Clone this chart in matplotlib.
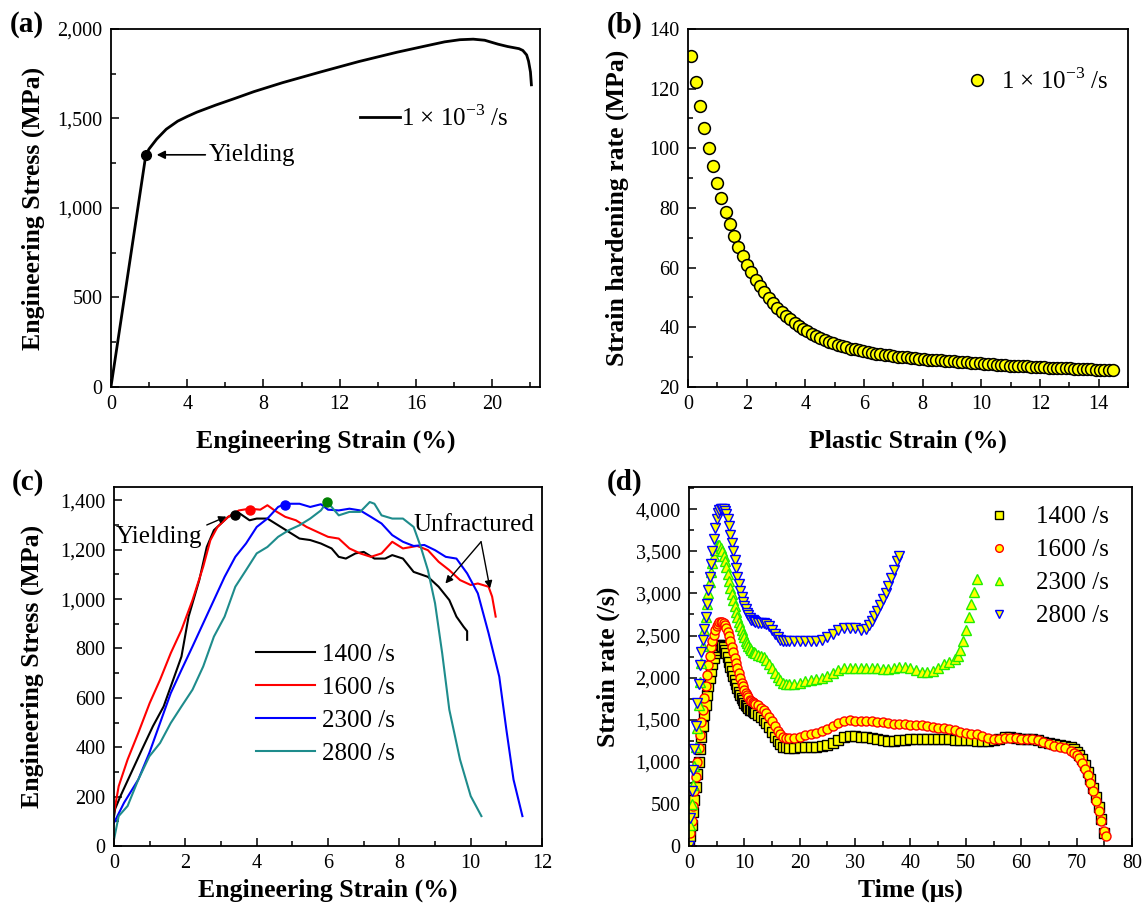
import numpy as np
import matplotlib
matplotlib.use('Agg')
import matplotlib.pyplot as plt
from matplotlib.ticker import MultipleLocator, StrMethodFormatter
from matplotlib.lines import Line2D

plt.rcParams['font.family'] = 'Liberation Serif'
plt.rcParams['mathtext.fontset'] = 'custom'
plt.rcParams['mathtext.rm'] = 'Liberation Serif'

# ── (a) quasi-static stress-strain ───────────────────────────────────────────
strain_a = [0, 1.83, 2.0, 2.4, 2.9, 3.5, 4.0, 4.5, 5.5, 6.5, 7.5, 9.0, 11.0, 13.0,
            15.0, 16.5, 17.5, 18.3, 19.0, 19.6, 20.3, 20.8, 21.4, 21.6, 21.8, 21.9,
            22.0, 22.05]
stress_a = [0, 1297, 1330, 1385, 1440, 1485, 1511, 1535, 1575, 1612, 1650, 1700, 1760, 1818,
            1870, 1905, 1928, 1940, 1943, 1937, 1915, 1902, 1890, 1880, 1855, 1820,
            1760, 1688]
yield_a = (1.83, 1297)

# ── (b) strain hardening rate ────────────────────────────────────────────────
plastic_b = [0.11, 0.26, 0.40, 0.55, 0.70, 0.84, 0.99, 1.14, 1.28, 1.43,
             1.58, 1.72, 1.87, 2.02, 2.16, 2.31, 2.46, 2.60, 2.75, 2.90,
             3.04, 3.19, 3.34, 3.48, 3.63, 3.78, 3.92, 4.07, 4.22, 4.36,
             4.51, 4.66, 4.80, 4.95, 5.10, 5.24, 5.39, 5.54, 5.68, 5.83,
             5.98, 6.12, 6.27, 6.42, 6.56, 6.71, 6.86, 7.00, 7.15, 7.30,
             7.45, 7.59, 7.74, 7.89, 8.03, 8.18, 8.33, 8.47, 8.62, 8.77,
             8.91, 9.06, 9.21, 9.35, 9.50, 9.65, 9.79, 9.94, 10.09, 10.23,
             10.38, 10.53, 10.67, 10.82, 10.97, 11.11, 11.26, 11.41, 11.55, 11.70,
             11.85, 11.99, 12.14, 12.29, 12.43, 12.58, 12.73, 12.87, 13.02, 13.17,
             13.31, 13.46, 13.61, 13.75, 13.90, 14.05, 14.19, 14.34, 14.49]
harden_b = [130.8, 122.2, 114.2, 106.7, 100.1, 94.0, 88.4, 83.3, 78.6, 74.5,
            70.6, 67.0, 63.9, 60.9, 58.4, 56.0, 53.8, 51.8, 49.9, 48.2,
            46.6, 45.2, 43.9, 42.7, 41.6, 40.5, 39.5, 38.6, 37.8, 37.1,
            36.4, 35.8, 35.2, 34.6, 34.1, 33.7, 33.3, 32.9, 32.6, 32.3,
            32.0, 31.7, 31.5, 31.2, 31.0, 30.8, 30.6, 30.4, 30.2, 30.0,
            29.9, 29.7, 29.6, 29.5, 29.3, 29.2, 29.1, 29.0, 28.9, 28.8,
            28.7, 28.6, 28.5, 28.4, 28.3, 28.2, 28.1, 27.9, 27.8, 27.7,
            27.6, 27.5, 27.4, 27.3, 27.2, 27.1, 27.0, 27.0, 26.9, 26.8,
            26.7, 26.6, 26.6, 26.5, 26.4, 26.4, 26.3, 26.2, 26.2, 26.1,
            26.0, 26.0, 25.9, 25.9, 25.8, 25.8, 25.7, 25.7, 25.6]

# ── (c) dynamic stress-strain ────────────────────────────────────────────────
c_labels = ['1400 /s', '1600 /s', '2300 /s', '2800 /s']
c_colors = ['#000000', '#FF0000', '#0000FF', '#1E8C8C']
strain_1400 = [0, 0.03, 0.18, 0.48, 0.78, 1.09, 1.39, 1.69, 1.89, 2.09, 2.39, 2.6, 2.8,
               3.0, 3.2, 3.38, 3.5, 3.8, 4.0, 4.3, 4.6, 4.9, 5.2, 5.5, 5.8, 6.1, 6.3,
               6.5, 6.77, 7.0, 7.3, 7.6, 7.8, 8.1, 8.4, 8.8, 9.1, 9.4, 9.6, 9.8, 9.9, 9.9]
stress_1400 = [120, 150, 202, 296, 390, 485, 565, 686, 767, 929, 1077, 1211, 1279,
               1306, 1333, 1343, 1349, 1319, 1326, 1326, 1299, 1272, 1245, 1239, 1225, 1205, 1171,
               1164, 1185, 1191, 1164, 1164, 1178, 1164, 1110, 1090, 1050, 996, 929, 888, 870, 835]
strain_1600 = [0, 0.13, 0.38, 0.68, 1.0, 1.29, 1.59, 1.89, 2.2, 2.5, 2.7, 2.9, 3.2, 3.5,
               3.8, 4.1, 4.3, 4.5, 4.8, 5.1, 5.4, 5.7, 6.0, 6.3, 6.6, 6.9, 7.2, 7.5, 7.8,
               8.1, 8.5, 8.8, 9.1, 9.4, 9.7, 10.0, 10.2, 10.5, 10.6, 10.7]
stress_1600 = [135, 242, 350, 458, 579, 673, 781, 875, 996, 1131, 1238, 1292, 1333, 1359,
               1366, 1362, 1380, 1359, 1333, 1319, 1292, 1272, 1252, 1245, 1205, 1185, 1171, 1185, 1232,
               1205, 1215, 1198, 1151, 1117, 1077, 1057, 1063, 1050, 1010, 929]
strain_2300 = [0, 0.28, 0.68, 0.99, 1.29, 1.59, 1.89, 2.2, 2.5, 2.8, 3.1, 3.4, 3.7, 4.0,
               4.3, 4.6, 4.8, 5.2, 5.5, 5.8, 6.0, 6.3, 6.6, 6.9, 7.2, 7.5, 7.8, 8.1, 8.4,
               8.7, 9.0, 9.3, 9.6, 9.9, 10.2, 10.5, 10.8, 11.0, 11.2, 11.45]
stress_2300 = [94, 175, 269, 377, 498, 619, 713, 808, 902, 996, 1090, 1171, 1225, 1292,
               1326, 1373, 1386, 1386, 1373, 1384, 1362, 1359, 1366, 1359, 1333, 1306, 1259, 1232, 1215,
               1219, 1198, 1171, 1164, 1104, 1023, 862, 686, 471, 269, 121]
strain_2800 = [0, 0.13, 0.38, 0.68, 0.99, 1.29, 1.59, 1.89, 2.2, 2.5, 2.8, 3.1, 3.4, 3.7,
               4.0, 4.3, 4.6, 4.9, 5.2, 5.5, 5.8, 5.97, 6.1, 6.3, 6.6, 6.9, 7.17, 7.3, 7.5,
               7.8, 8.1, 8.4, 8.6, 8.8, 9.0, 9.2, 9.4, 9.7, 10.0, 10.3]
stress_2800 = [27, 121, 162, 269, 363, 417, 498, 565, 633, 727, 848, 929, 1050, 1117,
               1185, 1211, 1252, 1279, 1299, 1326, 1359, 1393, 1373, 1339, 1353, 1353, 1393, 1386, 1339,
               1326, 1326, 1292, 1211, 1117, 983, 781, 552, 350, 202, 121]
yield_c_x = [3.4, 3.8, 4.78, 5.97]
yield_c_y = [1340, 1360, 1380, 1395]
yield_c_colors = ['#000000', '#FF0000', '#0000FF', '#008000']

# ── (d) strain rate histories ────────────────────────────────────────────────
t_early = [0, 0.25, 0.5, 0.75, 1, 1.25, 1.5, 1.75, 2, 2.25, 2.5, 2.75, 3, 3.25, 3.5, 3.75,
           4, 4.25, 4.5, 4.75, 5, 5.25, 5.5, 5.75, 6, 6.25, 6.5, 6.75, 7, 7.25, 7.5, 7.75,
           8, 8.25, 8.5, 8.75, 9, 9.25, 9.5, 9.75, 10, 10.25, 10.5, 10.75, 11, 11.25, 11.5,
           11.75, 12]
t_mid = [12.5, 13, 13.5, 14, 14.5, 15, 15.5, 16, 16.5, 17, 17.5, 18]
t_1400 = t_early + t_mid + [
    19, 20, 21, 22, 23, 24, 25, 26, 27, 28, 29, 30, 31, 32, 33, 34, 35, 36, 37, 38,
    39, 40, 41, 42, 43, 44, 45, 46, 47, 48, 49, 50, 51, 52, 53, 54, 55, 56, 57, 58,
    59, 60, 61, 62, 63, 64, 65, 66, 67, 68, 69, 69.5, 70, 70.5, 71, 71.5, 72, 72.5,
    73, 73.5, 74, 74.5, 75]
sr_1400 = [0, 120, 250, 400, 550, 700, 850, 1000, 1150, 1290, 1430, 1560, 1680, 1790, 1900, 1990,
           2080, 2160, 2230, 2290, 2330, 2365, 2385, 2388, 2380, 2360, 2330, 2290, 2240, 2185, 2130, 2075,
           2020, 1970, 1920, 1875, 1830, 1795, 1760, 1730, 1700, 1680, 1660, 1640, 1620, 1610, 1600,
           1590, 1580,
           1560, 1530, 1500, 1460, 1410, 1360, 1300, 1250, 1210, 1180, 1170, 1165,
           1165, 1170, 1170, 1175, 1180, 1185, 1200, 1225, 1260, 1290, 1305, 1305, 1295, 1290,
           1280, 1265, 1255, 1250, 1250, 1255, 1260, 1265, 1265, 1265, 1265, 1270, 1275, 1270,
           1265, 1260, 1255, 1255, 1255, 1250, 1245, 1245, 1255, 1270, 1290, 1295, 1285, 1275,
           1270, 1265, 1255, 1240, 1225, 1210, 1200, 1190, 1170, 1150, 1120, 1080, 1030, 960,
           880, 790, 690, 580, 460, 320, 150]
t_1600 = t_early + t_mid + [
    19, 20, 21, 22, 23, 24, 25, 26, 27, 28, 29, 30, 31, 32, 33, 34, 35, 36, 37, 38,
    39, 40, 41, 42, 43, 44, 45, 46, 47, 48, 49, 50, 51, 52, 53, 54, 55, 56, 57, 58,
    59, 60, 61, 62, 63, 64, 65, 66, 67, 68, 69, 69.5, 70, 70.5, 71, 71.5, 72, 72.5,
    73, 73.5, 74, 74.5, 75, 75.3]
sr_1600 = [0, 150, 300, 480, 650, 820, 1000, 1160, 1320, 1470, 1620, 1760, 1900, 2030, 2150, 2260,
           2360, 2440, 2510, 2570, 2610, 2640, 2655, 2662, 2660, 2645, 2620, 2585, 2540, 2490, 2430, 2365,
           2300, 2235, 2170, 2110, 2050, 1995, 1940, 1895, 1850, 1820, 1790, 1765, 1740, 1725, 1710,
           1700, 1690,
           1670, 1645, 1615, 1580, 1530, 1480, 1420, 1370, 1330, 1300, 1285, 1280,
           1285, 1300, 1315, 1330, 1345, 1365, 1395, 1430, 1465, 1490, 1495, 1490, 1485, 1480,
           1480, 1475, 1470, 1465, 1455, 1450, 1445, 1440, 1440, 1435, 1425, 1410, 1400, 1405,
           1395, 1375, 1355, 1340, 1335, 1325, 1305, 1285, 1270, 1275, 1285, 1285, 1280, 1275,
           1275, 1275, 1260, 1240, 1215, 1190, 1175, 1160, 1130, 1110, 1080, 1040, 990, 920,
           840, 750, 650, 540, 420, 300, 180, 120]
t_2300 = t_early + t_mid + [
    19, 20, 21, 22, 23, 24, 25, 26, 27, 28, 29, 30, 31, 32, 33, 34, 35, 36, 37, 38,
    39, 40, 41, 42, 43, 44, 45, 46, 47, 48, 48.5, 49, 49.5, 50, 50.5, 51, 51.5, 52]
sr_2300 = [0, 250, 500, 720, 950, 1170, 1400, 1680, 1950, 2170, 2380, 2560, 2720, 2870, 3010, 3140,
           3260, 3360, 3450, 3520, 3560, 3575, 3570, 3540, 3500, 3440, 3380, 3310, 3230, 3150, 3070, 2990,
           2920, 2850, 2780, 2720, 2660, 2610, 2560, 2520, 2480, 2440, 2410, 2380, 2350, 2330, 2310,
           2300, 2290,
           2270, 2260, 2240, 2210, 2160, 2110, 2060, 2010, 1970, 1940, 1925, 1920,
           1920, 1935, 1960, 1975, 1980, 1990, 2020, 2055, 2090, 2115, 2120, 2115, 2115, 2120,
           2120, 2115, 2105, 2105, 2110, 2125, 2130, 2120, 2090, 2070, 2065, 2075, 2110, 2160,
           2190, 2220, 2260, 2330, 2430, 2560, 2720, 2870, 3020, 3170]
t_2800 = t_early + t_mid + [
    19, 20, 21, 22, 23, 24, 25, 26, 27, 28, 29, 30, 31, 32, 32.5, 33, 33.5, 34, 34.5,
    35, 35.5, 36, 36.5, 37, 37.5, 38]
sr_2800 = [0, 330, 650, 900, 1150, 1430, 1700, 1930, 2150, 2310, 2450, 2580, 2720, 2880, 3040, 3200,
           3350, 3500, 3650, 3780, 3880, 3950, 3990, 4000, 4000, 4000, 3980, 3940, 3880, 3800, 3700, 3600,
           3500, 3400, 3300, 3200, 3110, 3030, 2960, 2900, 2850, 2810, 2770, 2740, 2710, 2690, 2680,
           2670, 2660,
           2650, 2650, 2650, 2640, 2610, 2570, 2520, 2480, 2450, 2435, 2430, 2430,
           2430, 2430, 2430, 2430, 2435, 2450, 2480, 2520, 2560, 2590, 2595, 2590, 2570, 2580,
           2620, 2670, 2730, 2790, 2860, 2930, 3010, 3090, 3180, 3280, 3380, 3440]
d_labels = ['1400 /s', '1600 /s', '2300 /s', '2800 /s']
d_markers = ['s', 'o', '^', 'v']
d_edges = ['#000000', '#FF0000', '#22EE00', '#0000FF']

RATE_TXT = r'1 $\times$ 10$^{\mathregular{-3}}$ /s'
TICK_FS = 14.5
LABEL_FS = 18.5
TEXT_FS = 18


def style_axes(ax, xmaj, xmin, ymaj, ymin):
    ax.xaxis.set_major_locator(MultipleLocator(xmaj))
    ax.xaxis.set_minor_locator(MultipleLocator(xmin))
    ax.yaxis.set_major_locator(MultipleLocator(ymaj))
    ax.yaxis.set_minor_locator(MultipleLocator(ymin))
    ax.tick_params(which='both', direction='in', top=False, right=False,
                   labelsize=TICK_FS, width=1.1)
    ax.tick_params(which='major', length=6, pad=6)
    ax.tick_params(which='minor', length=3.5)
    for s in ax.spines.values():
        s.set_linewidth(1.3)


fig = plt.figure(figsize=(11.45, 9.08), dpi=100)
ax_a = fig.add_axes([0.0969, 0.5738, 0.3747, 0.3943])
ax_b = fig.add_axes([0.6009, 0.5738, 0.3843, 0.3943])
ax_c = fig.add_axes([0.0996, 0.0683, 0.3738, 0.3954])
ax_d = fig.add_axes([0.6017, 0.0683, 0.3869, 0.3954])

# (a)
ax_a.plot(strain_a, stress_a, color='k', lw=2)
ax_a.plot(*yield_a, 'o', color='k', ms=7)
ax_a.annotate('', xy=(2.4, yield_a[1]), xytext=(4.95, yield_a[1]),
              arrowprops=dict(arrowstyle='-|>', color='k', lw=1.2, mutation_scale=12,
                              shrinkA=0, shrinkB=0))
ax_a.text(5.15, yield_a[1], 'Yielding', fontsize=TEXT_FS, va='center', ha='left')
ax_a.set_xlim(0, 22.5)
ax_a.set_ylim(0, 2000)
style_axes(ax_a, 4, 2, 500, 250)
ax_a.yaxis.set_major_formatter(StrMethodFormatter('{x:,.0f}'))
ax_a.set_xlabel('Engineering Strain (%)', fontsize=LABEL_FS, fontweight='bold', labelpad=11)
ax_a.set_ylabel('Engineering Stress (MPa)', fontsize=LABEL_FS, fontweight='bold', labelpad=9)
ax_a.legend([Line2D([], [], color='k', lw=2)], [RATE_TXT], loc='center left',
            bbox_to_anchor=(0.58, 0.751), frameon=False, fontsize=TEXT_FS,
            handlelength=1.6, handletextpad=0.05, borderpad=0, borderaxespad=0)

# (b)
ax_b.plot(plastic_b, harden_b, 'o', ms=8.5, mfc='#FFFF00', mec='k', mew=1.1,
          label=RATE_TXT)
ax_b.set_xlim(0, 15)
ax_b.set_ylim(20, 140)
style_axes(ax_b, 2, 1, 20, 10)
ax_b.set_xlabel('Plastic Strain (%)', fontsize=LABEL_FS, fontweight='bold', labelpad=11)
ax_b.set_ylabel('Strain hardening rate (MPa)', fontsize=LABEL_FS, fontweight='bold', labelpad=15)
ax_b.legend(loc='center left', bbox_to_anchor=(0.628, 0.855), frameon=False,
            fontsize=TEXT_FS, handlelength=1.0, handletextpad=0.45, borderpad=0,
            borderaxespad=0, markerscale=1.0)

# (c)
c_strains = [strain_1400, strain_1600, strain_2300, strain_2800]
c_stresses = [stress_1400, stress_1600, stress_2300, stress_2800]
for xs, ys, col, lab in zip(c_strains, c_stresses, c_colors, c_labels):
    ax_c.plot(xs, ys, color=col, lw=1.5, label=lab)
for x, y, col in zip(yield_c_x, yield_c_y, yield_c_colors):
    ax_c.plot(x, y, 'o', color=col, ms=6.5, zorder=5)
ax_c.text(0.05, 1250, 'Yielding', fontsize=TEXT_FS, va='center', ha='left')
ax_c.annotate('', xy=(3.15, 1334), xytext=(2.6, 1300),
              arrowprops=dict(arrowstyle='-|>', color='k', lw=1.0, mutation_scale=11,
                              shrinkA=0, shrinkB=0))
ax_c.text(8.4, 1300, 'Unfractured', fontsize=TEXT_FS, va='center', ha='left')
for hx, hy in [(9.29, 1063), (10.54, 1043)]:
    ax_c.annotate('', xy=(hx, hy), xytext=(10.29, 1232),
                  arrowprops=dict(arrowstyle='-|>', color='k', lw=1.0, mutation_scale=11,
                                  shrinkA=0, shrinkB=0))
ax_c.set_xlim(0, 12)
ax_c.set_ylim(0, 1454)
style_axes(ax_c, 2, 1, 200, 100)
ax_c.yaxis.set_major_formatter(StrMethodFormatter('{x:,.0f}'))
ax_c.set_xlabel('Engineering Strain (%)', fontsize=LABEL_FS, fontweight='bold', labelpad=4)
ax_c.set_ylabel('Engineering Stress (MPa)', fontsize=LABEL_FS, fontweight='bold', labelpad=12)
ax_c.legend(loc='center left', bbox_to_anchor=(0.332, 0.395), frameon=False,
            fontsize=TEXT_FS, handlelength=2.35, handletextpad=0.3, borderpad=0,
            borderaxespad=0, labelspacing=0.42)

# (d)
d_times = [t_1400, t_1600, t_2300, t_2800]
d_rates = [sr_1400, sr_1600, sr_2300, sr_2800]
for ts, rs, mk, ec, lab in zip(d_times, d_rates, d_markers, d_edges, d_labels):
    ax_d.plot(ts, rs, mk, ms=6.5, mfc='#FFFF00', mec=ec, mew=1.0, label=lab)
ax_d.set_xlim(0, 80)
ax_d.set_ylim(0, 4265)
style_axes(ax_d, 10, 5, 500, 250)
ax_d.yaxis.set_major_formatter(StrMethodFormatter('{x:,.0f}'))
ax_d.set_xlabel('Time (μs)', fontsize=LABEL_FS, fontweight='bold', labelpad=4)
ax_d.set_ylabel('Strain rate (/s)', fontsize=LABEL_FS, fontweight='bold', labelpad=11)
ax_d.legend(loc='center left', bbox_to_anchor=(0.671, 0.778), frameon=False,
            fontsize=TEXT_FS, handlelength=1.0, handletextpad=1.0, borderpad=0,
            borderaxespad=0, labelspacing=0.42, markerscale=0.85)

# panel letters
for lab, (x, y) in zip(['(a)', '(b)', '(c)', '(d)'],
                       [(27, 25), (625, 25), (28, 482), (625, 482)]):
    fig.text(x / 1145, 1 - y / 908, lab, fontsize=21, fontweight='bold',
             ha='center', va='center')

fig.savefig('out.png', dpi=100)
